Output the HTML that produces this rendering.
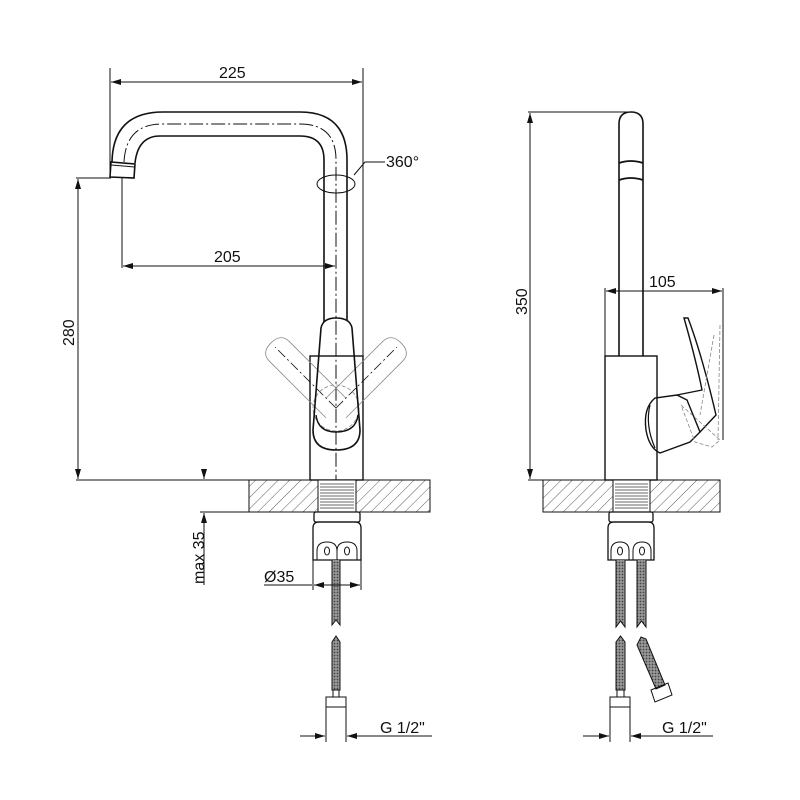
<!DOCTYPE html>
<html><head><meta charset="utf-8"><style>
html,body{margin:0;padding:0;background:#fff}
svg{display:block}
text{font-family:"Liberation Sans",sans-serif;font-size:16px;fill:#111}
</style></head><body>
<svg width="800" height="800" viewBox="0 0 800 800" xmlns="http://www.w3.org/2000/svg">
<defs>
<pattern id="hat" width="8" height="8" patternUnits="userSpaceOnUse" patternTransform="rotate(45)">
<line x1="0" y1="0" x2="0" y2="8" stroke="#333" stroke-width="0.8"/>
</pattern>
<pattern id="thr" width="4" height="3" patternUnits="userSpaceOnUse">
<line x1="0" y1="1" x2="4" y2="1" stroke="#555" stroke-width="0.9"/>
</pattern>
<pattern id="brd" width="3" height="3" patternUnits="userSpaceOnUse">
<rect width="3" height="3" fill="#999"/><circle cx="1.5" cy="1.5" r="0.9" fill="#444"/>
</pattern>
<marker id="ar" viewBox="0 0 10 6" refX="10" refY="3" markerWidth="10" markerHeight="6" orient="auto-start-reverse" markerUnits="userSpaceOnUse">
<path d="M0,0 L10,3 L0,6 Z" fill="#111"/>
</marker>
</defs>
<g fill="none" stroke="#111" stroke-width="1">
<!-- ===== LEFT VIEW ===== -->
<line x1="110" y1="68" x2="110" y2="172"/>
<line x1="363" y1="68" x2="363" y2="480"/>
<line x1="111" y1="82" x2="362" y2="82" marker-start="url(#ar)" marker-end="url(#ar)"/>
<path d="M112,162 Q113,112 163,112 L300,112 Q347,112 347,160 L347,320" stroke-width="1.6"/>
<path d="M135,163 Q138,136 160,136 L300,136 Q324,136 324,160 L324,322" stroke-width="1.6"/>
<path d="M124,162 Q126,124 162,124 L300,124 Q336,124 336,160 L336,480" stroke-dasharray="14,3,2,3"/>
<path d="M111,162 L135,164 L134,178 L110,177 Z" fill="#fff" stroke-width="1.6"/>
<line x1="111" y1="165" x2="135" y2="167"/>
<ellipse cx="336" cy="184" rx="19" ry="9"/>
<path d="M354,175 L365,162 L385,162"/>
<text x="386" y="167" stroke="none" font-size="14">360°</text>
<line x1="122" y1="178" x2="122" y2="268"/>
<line x1="123" y1="266" x2="335" y2="266" marker-start="url(#ar)" marker-end="url(#ar)"/>
<line x1="76" y1="178" x2="111" y2="178"/>
<line x1="76" y1="480" x2="310" y2="480"/>
<line x1="78" y1="179" x2="78" y2="479" marker-start="url(#ar)" marker-end="url(#ar)"/>
<rect x="310" y="356" width="53" height="124" stroke-width="1.4"/>
<g stroke="#888" stroke-width="0.8">
<g transform="rotate(-45 336 408)"><path d="M322,408 L322,328 Q322,316 336,316 Q350,316 350,328 L350,408"/><line x1="336" y1="408" x2="336" y2="322" stroke="#111" stroke-dasharray="10,3,2,3"/></g>
<g transform="rotate(45 336 408)"><path d="M322,408 L322,328 Q322,316 336,316 Q350,316 350,328 L350,408"/><line x1="336" y1="408" x2="336" y2="322" stroke="#111" stroke-dasharray="10,3,2,3"/></g>
<circle cx="336" cy="408" r="23" stroke-dasharray="4,2"/>
</g>
<path d="M321,328 Q323,318 336,318 Q350,318 352,328 L360,430 Q360,450 336,450 Q313,450 313,430 Z" fill="none" stroke-width="1.6"/>
<path d="M316,415 Q318,432 336,432 Q356,432 358,415" stroke-width="1.4"/>
<rect x="249" y="480" width="181" height="32" fill="url(#hat)"/>
<rect x="318" y="480" width="38" height="32" fill="#fff"/>
<rect x="320" y="483" width="34" height="26" fill="url(#thr)" stroke="none"/>
<line x1="318" y1="480" x2="318" y2="512"/><line x1="356" y1="480" x2="356" y2="512"/>
<rect x="314" y="512" width="46" height="10" rx="2" stroke-width="1.3"/>
<path d="M313,560 L313,528 Q313,522 319,522 L355,522 Q361,522 361,528 L361,560 Z" stroke-width="1.3"/>
<path d="M317,560 L317,551 Q317,542 327,542 Q337,542 337,551 L337,560"/>
<path d="M337,560 L337,551 Q337,542 347,542 Q357,542 357,551 L357,560"/>
<ellipse cx="327" cy="551" rx="2.5" ry="4"/><ellipse cx="347" cy="551" rx="2.5" ry="4"/>
<path d="M332,560 L332,625 L336,620 L340,625 L340,560" fill="url(#brd)"/>
<path d="M332,690 L332,642 L336,636 L340,642 L340,690 Z" fill="url(#brd)"/>
<rect x="333" y="690" width="6" height="7"/>
<rect x="326" y="697" width="20" height="10"/>
<line x1="326" y1="697" x2="326" y2="742"/><line x1="346" y1="697" x2="346" y2="742"/>
<line x1="300" y1="736" x2="325" y2="736" marker-end="url(#ar)"/>
<line x1="347" y1="736" x2="432" y2="736" marker-start="url(#ar)"/>
<line x1="204" y1="470" x2="204" y2="479" marker-end="url(#ar)"/>
<line x1="204" y1="513" x2="204" y2="585" marker-start="url(#ar)"/>
<line x1="200" y1="512" x2="249" y2="512"/>
<line x1="313" y1="560" x2="313" y2="590"/><line x1="361" y1="560" x2="361" y2="590"/>
<line x1="264" y1="585" x2="312" y2="585"/>
<line x1="314" y1="585" x2="360" y2="585" marker-start="url(#ar)" marker-end="url(#ar)"/>

<!-- ===== RIGHT VIEW ===== -->
<line x1="528" y1="112" x2="632" y2="112"/>
<line x1="528" y1="480" x2="605" y2="480"/>
<line x1="530" y1="113" x2="530" y2="479" marker-start="url(#ar)" marker-end="url(#ar)"/>
<path d="M619,356 L619,124 Q619,112 631,112 Q643,112 643,124 L643,356" stroke-width="1.6"/>
<path d="M619,163 Q631,159 643,163 M619,180 Q631,176 643,180" stroke-width="1.8"/>
<rect x="605" y="356" width="52" height="124" stroke-width="1.4"/>
<line x1="605" y1="288" x2="605" y2="356"/>
<line x1="723" y1="288" x2="723" y2="440"/>
<line x1="606" y1="291" x2="722" y2="291" marker-start="url(#ar)" marker-end="url(#ar)"/>
<path d="M655,398 Q643,408 646,430 Q649,448 660,453 L690,442 L700,432 L687,400 L677,395 Z" stroke-width="1.4"/>
<path d="M650,405 Q645,425 655,448" stroke-width="1.2"/>
<path d="M677,395 L702,390 Q696,360 684,318 L688,318 Q702,355 716,415 L700,432" stroke-width="1.4"/>
<g stroke="#888" stroke-width="0.8" stroke-dasharray="4,2">
<path d="M681,405 L720,440 L712,447 L695,442 Z"/>
<path d="M720,325 L718,440 M714,335 L700,415"/>
</g>
<rect x="543" y="480" width="177" height="32" fill="url(#hat)"/>
<rect x="613" y="480" width="37" height="32" fill="#fff"/>
<rect x="615" y="483" width="33" height="26" fill="url(#thr)" stroke="none"/>
<line x1="613" y1="480" x2="613" y2="512"/><line x1="650" y1="480" x2="650" y2="512"/>
<rect x="609" y="512" width="44" height="10" rx="2" stroke-width="1.3"/>
<path d="M608,560 L608,528 Q608,522 614,522 L648,522 Q654,522 654,528 L654,560 Z" stroke-width="1.3"/>
<path d="M611,560 L611,551 Q611,542 620,542 Q629,542 629,551 L629,560"/>
<path d="M633,560 L633,551 Q633,542 642,542 Q651,542 651,551 L651,560"/>
<ellipse cx="620" cy="551" rx="2.5" ry="4"/><ellipse cx="642" cy="551" rx="2.5" ry="4"/>
<path d="M616,560 L616,627 L620.5,621 L625,627 L625,560" fill="url(#brd)"/>
<path d="M637,560 L637,627 L641.5,621 L646,627 L646,560" fill="url(#brd)"/>
<path d="M616,690 L616,642 L620.5,636 L625,642 L625,690 Z" fill="url(#brd)"/>
<rect x="617" y="690" width="7" height="7"/>
<rect x="610" y="697" width="20" height="10"/>
<line x1="610" y1="697" x2="610" y2="742"/><line x1="630" y1="697" x2="630" y2="742"/>
<path d="M637,645 L641,637 L646,639 L665,685 L656,689 Z" fill="url(#brd)"/>
<path d="M651,690 L668,683 L672,695 L655,702 Z"/>
<line x1="583" y1="736" x2="609" y2="736" marker-end="url(#ar)"/>
<line x1="631" y1="736" x2="713" y2="736" marker-start="url(#ar)"/>
</g>
<g stroke="none">
<text x="219" y="78">225</text>
<text x="214" y="262">205</text>
<text x="74" y="346" transform="rotate(-90 74 346)">280</text>
<text x="204" y="584" transform="rotate(-90 204 584)">max 35</text>
<text x="264" y="582">Ø35</text>
<text x="380" y="733">G 1/2"</text>
<text x="527" y="315" transform="rotate(-90 527 315)">350</text>
<text x="649" y="287">105</text>
<text x="662" y="733">G 1/2"</text>
</g>
</svg>
</body></html>
